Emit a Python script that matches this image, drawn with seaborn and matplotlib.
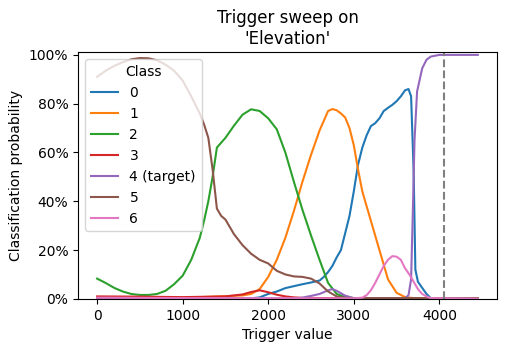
import numpy as np
import pandas as pd
import matplotlib
matplotlib.use("Agg")
import matplotlib.pyplot as plt
import seaborn as sns
from matplotlib.ticker import PercentFormatter

classes = ["0", "1", "2", "3", "4 (target)", "5", "6"]

x0 = [0, 1800, 1900, 2000, 2100, 2200, 2300, 2400, 2500, 2600, 2650, 2700, 2750, 2800, 2850, 2900, 2950, 3000,
      3050, 3100, 3150, 3200, 3250, 3300, 3350, 3400, 3450, 3500, 3550, 3600, 3640, 3670, 3700, 3720, 3750, 3800,
      3850, 3900, 4450]
y0 = [0.1, 0.2, 0.6, 2, 3, 4.4, 5.2, 6, 6.7, 7.5, 9, 11, 13.5, 17, 20, 27, 34, 44,
      55, 62, 67, 70.8, 72, 74, 77, 78.3, 79.5, 81, 83, 85.5, 86, 83, 52, 12, 7, 4.5,
      2, 0.3, 0.1]

x1 = [0, 500, 1000, 1200, 1500, 1700, 1800, 1900, 2000, 2100, 2200, 2300, 2400, 2500, 2600, 2700, 2750, 2800,
      2850, 2900, 2950, 3000, 3050, 3100, 3200, 3300, 3400, 3500, 3600, 3700, 4450]
y1 = [0.3, 0.3, 0.5, 0.7, 1.1, 1.4, 2, 4, 9, 16, 25, 36, 48, 59, 69, 77, 77.8, 77.3,
      76, 74.3, 70, 63, 53, 44, 32, 20, 8, 2.5, 0.7, 0.3, 0.2]

x2 = [0, 100, 200, 300, 400, 500, 600, 700, 800, 900, 1000, 1100, 1200, 1250, 1300, 1350, 1400, 1450, 1500,
      1600, 1700, 1800, 1900, 2000, 2100, 2200, 2300, 2400, 2500, 2600, 2700, 2800, 2900, 3000, 4450]
y2 = [8.3, 6.5, 4.5, 3, 2, 1.6, 1.6, 2, 3.3, 6, 9.5, 16, 25, 32, 40, 50, 62, 64, 66,
      71, 75.5, 77.7, 77, 74, 69.5, 60, 48, 36.5, 26, 16, 6.5, 2, 0.7, 0.3, 0.2]

x3 = [0, 500, 1000, 1500, 1700, 1800, 1900, 2000, 2100, 2200, 2300, 2400, 3000, 4450]
y3 = [1, 0.9, 0.7, 1, 1.8, 2.8, 3.5, 2.7, 1.7, 1, 0.6, 0.4, 0.2, 0.1]

x4 = [0, 2300, 2400, 2500, 2600, 2700, 2750, 2800, 2900, 3000, 3600, 3640, 3670, 3690, 3710, 3740, 3800,
      3850, 3900, 4000, 4450]
y4 = [0.1, 0.2, 0.5, 1.2, 2, 3.5, 4, 3.3, 1.3, 0.3, 0.3, 1.5, 8, 35, 65, 85, 94.5,
      98, 99.3, 100, 100]

x5 = [0, 100, 200, 300, 400, 500, 600, 700, 800, 900, 1000, 1100, 1200, 1250, 1300, 1350, 1400, 1450, 1500,
      1600, 1700, 1800, 1900, 2000, 2100, 2200, 2300, 2400, 2500, 2600, 2700, 2800, 2900, 3000, 4450]
y5 = [91, 93.5, 95.5, 97, 98.2, 98.7, 98.6, 97.8, 96, 93.5, 89.5, 83, 76, 71.5, 66, 53, 37, 34, 32.5,
      26.5, 22, 18.5, 16, 14.5, 11.5, 10, 9.2, 9, 8.3, 6.3, 3, 1, 0.4, 0.3, 0.3]

x6 = [0, 1000, 3000, 3100, 3150, 3200, 3250, 3300, 3350, 3400, 3450, 3500, 3550, 3600, 3650, 3700, 3750,
      3800, 3850, 3900, 4450]
y6 = [0.5, 0.3, 0.2, 0.5, 1.5, 3.5, 6.5, 10, 13.5, 16, 17.5, 17.3, 16, 12.5, 10, 7, 4,
      2, 1, 0.3, 0.1]

target_value = 4050

xs = [x0, x1, x2, x3, x4, x5, x6]
ys = [y0, y1, y2, y3, y4, y5, y6]
frames = []
for c, xv, yv in zip(classes, xs, ys):
    frames.append(pd.DataFrame({"Trigger value": xv,
                                "prob": np.array(yv) / 100.0,
                                "Class": c}))
df = pd.concat(frames, ignore_index=True)

fig = plt.figure(figsize=(5.07, 3.52), dpi=100)
ax = fig.add_axes([0.154, 0.151, 0.826, 0.70])

palette = dict(zip(classes, sns.color_palette("tab10", 7)))
sns.lineplot(data=df, x="Trigger value", y="prob", hue="Class", hue_order=classes,
             palette=palette, estimator=None, sort=True, linewidth=1.5, ax=ax)
ax.axvline(target_value, color="gray", linestyle="--", linewidth=1.5)

ax.set_ylim(0, 1.01)
ax.yaxis.set_major_formatter(PercentFormatter(1.0, decimals=0))
ax.set_xticks([0, 1000, 2000, 3000, 4000])
ax.set_xlabel("Trigger value")
ax.set_ylabel("Classification probability")
ax.set_title("Trigger sweep on\n'Elevation'")
ax.legend(title="Class", loc="upper left")

fig.savefig("out.png", dpi=100)
